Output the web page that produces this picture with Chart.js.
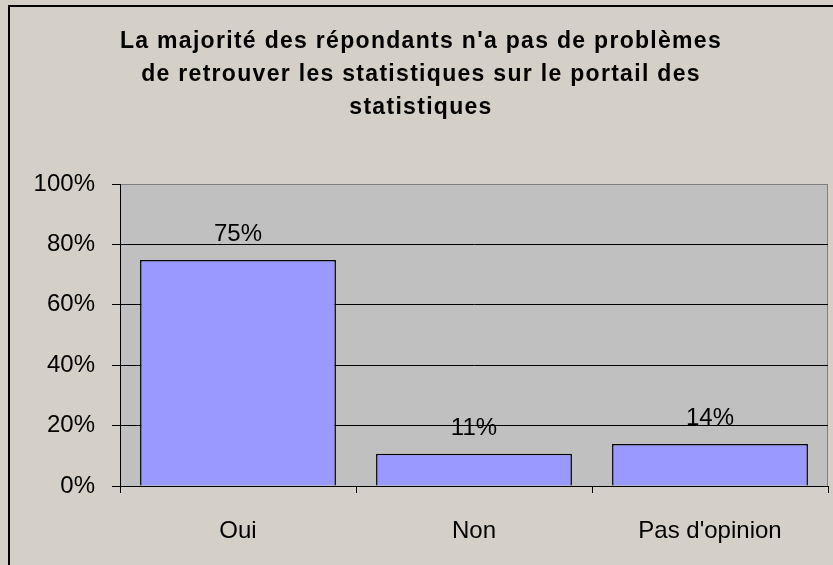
<!DOCTYPE html>
<html>
<head>
<meta charset="utf-8">
<script src="https://cdn.jsdelivr.net/npm/chart.js@4/dist/chart.umd.min.js"></script>
<style>
  html, body { margin: 0; padding: 0; background: #d4d0c8; }
  canvas { display: block; }
</style>
</head>
<body>
<canvas id="chart" width="833" height="565"></canvas>
<script>
const categories = ['Oui', 'Non', "Pas d'opinion"];
const shares = [74.8, 10.7, 13.9];
const yTicks = [0, 20, 40, 60, 80, 100];
const titleLines = [
    'La majorité des répondants n\'a pas de problèmes',
    'de retrouver les statistiques sur le portail des',
    'statistiques'
];

const FONT = '"Liberation Sans", Arial, sans-serif';

// fond, cadre et titre dessinés à la main (espacement des lettres)
const decor = {
    id: 'decor',
    beforeDraw(chart) {
        const ctx = chart.ctx;
        const a = chart.chartArea;
        ctx.save();
        ctx.fillStyle = '#d4d0c8';
        ctx.fillRect(0, 0, chart.width, chart.height);
        ctx.strokeStyle = '#000';
        ctx.lineWidth = 2;
        ctx.strokeRect(9, 6, chart.width + 20, chart.height + 20);
        ctx.fillStyle = '#c0c0c0';
        ctx.fillRect(a.left, a.top, a.right - a.left, a.bottom - a.top);
        ctx.strokeStyle = '#808080';
        ctx.lineWidth = 1;
        ctx.strokeRect(a.left + 0.5, a.top + 0.5, a.right - a.left - 1, a.bottom - a.top);

        ctx.fillStyle = '#000';
        ctx.font = 'bold 23px ' + FONT;
        ctx.textAlign = 'center';
        ctx.textBaseline = 'alphabetic';
        ctx.letterSpacing = '1.3px';
        titleLines.forEach((t, i) => ctx.fillText(t, 421, 48 + i * 33));
        ctx.restore();
    },
    afterDatasetsDraw(chart) {
        const ctx = chart.ctx;
        const meta = chart.getDatasetMeta(0);
        ctx.save();
        ctx.fillStyle = '#000';
        ctx.font = '24px ' + FONT;
        ctx.textAlign = 'center';
        ctx.textBaseline = 'alphabetic';
        meta.data.forEach((bar, i) => {
            ctx.fillText(Math.round(shares[i]) + '%', bar.x, bar.y - 19);
        });
        ctx.restore();
    }
};

new Chart(document.getElementById('chart'), {
    type: 'bar',
    data: {
        labels: categories,
        datasets: [{
            data: shares,
            backgroundColor: '#9999ff',
            borderColor: '#000',
            borderWidth: 1.5,
            barPercentage: 0.83,
            categoryPercentage: 1
        }]
    },
    options: {
        responsive: false,
        animation: false,
        layout: { padding: { top: 184, left: 0, right: 5, bottom: 0 } },
        plugins: {
            legend: { display: false },
            tooltip: { enabled: false },
            title: { display: false }
        },
        scales: {
            x: {
                afterFit(s) { s.height = 79; },
                grid: {
                    offset: true,
                    drawOnChartArea: false,
                    color: '#000',
                    tickLength: 7
                },
                border: { color: '#000', width: 1 },
                ticks: {
                    color: '#000',
                    font: { family: FONT, size: 24 },
                    padding: 24,
                    maxRotation: 0
                }
            },
            y: {
                min: 0,
                max: 100,
                afterFit(s) { s.width = 120; },
                afterBuildTicks(s) { s.ticks = yTicks.map(v => ({ value: v })); },
                grid: {
                    color: ctx => (ctx.tick && ctx.tick.value === 100) ? '#808080' : '#000',
                    tickColor: '#000',
                    tickLength: 8
                },
                border: { color: '#000', width: 1 },
                ticks: {
                    color: '#000',
                    font: { family: FONT, size: 24 },
                    padding: 17,
                    callback: v => v + '%'
                }
            }
        }
    },
    plugins: [decor]
});
</script>
</body>
</html>
